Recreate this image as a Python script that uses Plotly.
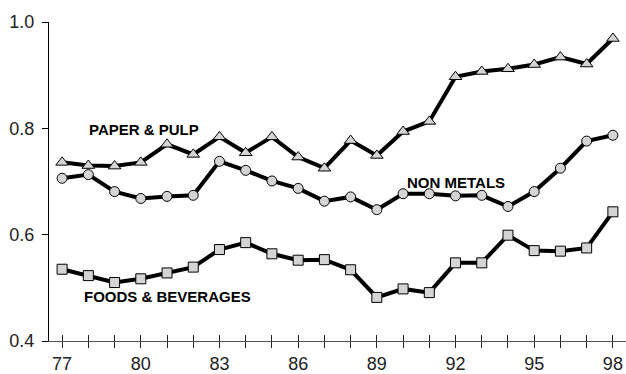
import plotly.graph_objects as go

years = list(range(1977, 1999))
year_labels = [str(y)[2:] if (y - 1977) % 3 == 0 else "" for y in years]

paper_pulp = [0.736, 0.730, 0.729, 0.736, 0.770, 0.751, 0.784, 0.754, 0.784, 0.746,
              0.725, 0.777, 0.749, 0.794, 0.813, 0.897, 0.907, 0.912, 0.920, 0.934,
              0.921, 0.969]
non_metals = [0.706, 0.713, 0.681, 0.668, 0.672, 0.674, 0.738, 0.721, 0.701, 0.687,
              0.663, 0.671, 0.647, 0.677, 0.677, 0.673, 0.674, 0.653, 0.681, 0.725,
              0.776, 0.787]
foods_bev = [0.535, 0.523, 0.510, 0.517, 0.528, 0.539, 0.572, 0.585, 0.564, 0.552,
             0.553, 0.534, 0.482, 0.498, 0.491, 0.547, 0.547, 0.599, 0.570, 0.569,
             0.575, 0.643]

FONT = "Liberation Sans, Arial, sans-serif"
FILL = "#d4d4d4"

fig = go.Figure()

def add_series(vals, symbol, size):
    fig.add_trace(go.Scatter(
        x=years, y=vals, mode="lines+markers",
        line=dict(color="black", width=4),
        marker=dict(symbol=symbol, size=size, color=FILL,
                    line=dict(color="black", width=1)),
        showlegend=False, hoverinfo="skip",
    ))

add_series(paper_pulp, "triangle-up", 11)
add_series(non_metals, "circle", 10)
add_series(foods_bev, "square", 10)

# series names placed beside their lines
labels = [
    ("PAPER & PULP", 1980.12, 0.797),
    ("NON METALS", 1992.0, 0.698),
    ("FOODS & BEVERAGES", 1981.0, 0.484),
]
for text, lx, ly in labels:
    fig.add_annotation(x=lx, y=ly, text=f"<b>{text}</b>", showarrow=False,
                       font=dict(family=FONT, size=15, color="black"),
                       xanchor="center", yanchor="middle")

xr = [1976.5, 1998.5]
fig.update_layout(
    width=626, height=374,
    margin=dict(l=49, r=0, t=22, b=26),
    paper_bgcolor="white", plot_bgcolor="white",
    font=dict(family=FONT, size=18, color="#222"),
    xaxis=dict(range=xr, tickmode="array", tickvals=years,
               ticktext=year_labels, showgrid=False, zeroline=False,
               showline=True, linecolor="#555", linewidth=1,
               ticks="outside", ticklen=6, tickwidth=1, tickcolor="#222",
               tickfont=dict(size=18)),
    # second axis over the same range draws the upper half of the crossing ticks
    xaxis2=dict(range=xr, overlaying="x", anchor="y", side="bottom",
                tickmode="array", tickvals=years, showticklabels=False,
                ticks="inside", ticklen=6, tickwidth=1, tickcolor="#222",
                showgrid=False, zeroline=False, showline=False),
    yaxis=dict(range=[0.4, 1.0], tickmode="array", tickvals=[0.4, 0.6, 0.8, 1.0],
               tickformat=".1f", showgrid=False, zeroline=False,
               showline=True, linecolor="black", linewidth=1,
               ticks="outside", ticklen=6, tickcolor="black",
               ticklabelstandoff=4, tickfont=dict(size=18)),
)

# transparent trace that attaches to the overlay axis so it is rendered
fig.add_trace(go.Scatter(x=[years[0]], y=[0.4], xaxis="x2", yaxis="y",
                         mode="markers", marker=dict(opacity=0),
                         showlegend=False, hoverinfo="skip"))

fig.write_html("out.html")
